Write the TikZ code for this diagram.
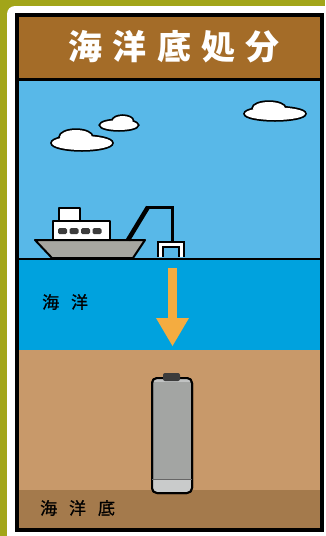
\documentclass[tikz,border=0pt]{standalone}
\usepackage{fontspec}
\newfontfamily\cjk{Noto Sans CJK JP}
\usetikzlibrary{arrows.meta,positioning}
\definecolor{frameolive}{HTML}{A2A519}
\definecolor{titlebrown}{HTML}{A46C28}
\definecolor{skyblue}{HTML}{58B8E8}
\definecolor{seablue}{HTML}{00A2DE}
\definecolor{sand}{HTML}{C8996A}
\definecolor{seabed}{HTML}{A47A4C}
\definecolor{droporange}{HTML}{F4AC40}
\definecolor{hullgray}{HTML}{A6A6A0}
\definecolor{cangray}{HTML}{A3A5A3}
\definecolor{canlight}{HTML}{C9CBCB}
\definecolor{windowgray}{HTML}{3C3C3C}
\tikzset{
    %Define standard outline
    outline/.style={draw=black, line width=2pt, line join=round},
    % Define text styles
    titletext/.style={text=white, font=\cjk\bfseries\fontsize{34}{34}\selectfont\addfontfeatures{LetterSpace=30}},
    layertext/.style={text=black, anchor=west, inner sep=0pt, font=\cjk\fontsize{17}{17}\selectfont\addfontfeatures{LetterSpace=70,FakeBold=1}},
    % Define cloud
    pics/cloud/.style={code={
        \draw[line width=3.5pt, fill=white] (0,3) ellipse [x radius=30, y radius=7]
              (-6,-3) ellipse [x radius=16, y radius=7];
        \fill[white] (0,3) ellipse [x radius=30, y radius=7]
              (-6,-3) ellipse [x radius=16, y radius=7];
    }},
}

\begin{document}
\begin{tikzpicture}[
x=1pt, y=-1pt,
droparrow/.style={draw=droporange, line width=9pt, -{Triangle[width=33pt, length=28pt, line width=0pt]}},
]
\useasboundingbox (0,0) rectangle (325,536);
%Background
\fill[frameolive] (0,0) rectangle (325,536);
\fill[white, rounded corners=8pt] (7,6) rectangle (345,560);

%Layers
\fill[titlebrown] (17,15) rectangle (321.5,79.5);
\fill[skyblue] (17,79.5) rectangle (321.5,259);
\fill[seablue] (17,259) rectangle (321.5,350);
\fill[sand] (17,350) rectangle (321.5,490);
\fill[seabed] (17,490) rectangle (321.5,530);
\draw[line width=3pt] (17,79.5) -- (321.5,79.5);
\draw[line width=2pt] (17,259) -- (321.5,259);
\draw[line width=4pt] (17,15) rectangle (321.5,530);

%Clouds
\pic at (82,140) {cloud};
\pic[xscale=-0.62, yscale=0.7] at (119,123) {cloud};
\pic[yscale=0.9] at (275,111) {cloud};

%Ship
\draw[outline, fill=hullgray] (35,240) -- (145,240) -- (133,258) -- (52,258) -- cycle;
\draw[outline, fill=white] (53,221) rectangle (110,240);
\draw[outline, fill=white] (59,208) rectangle (80,221);
\foreach \wx in {62.5,74,85.5,97}
    \fill[windowgray, rounded corners=1.5pt] (\wx-4.5,228) rectangle (\wx+4.5,234);

%Crane
\draw[line width=4.5pt] (128,240) -- (148,207);
\draw[line width=3pt, line join=miter] (147,207) -- (172,207) -- (172,243);
\draw[line width=2pt, double=white, double distance=3pt, line join=miter]
      (160,257) -- (160,244) -- (181,244) -- (181,257);

%Canister
\draw[outline, fill=cangray, rounded corners=5pt] (152,378) rectangle (192,493);
\begin{scope}
    \clip[rounded corners=5pt] (152,378) rectangle (192,493);
    \fill[canlight] (152,479) rectangle (192,493);
    \fill[canlight!80!cangray] (152,378) rectangle (192,382);
\end{scope}
\draw[outline, rounded corners=5pt] (152,378) rectangle (192,493);
\draw[line width=0.8pt, black!60] (152,479) -- (192,479);
\fill[windowgray, rounded corners=2pt] (163,373) rectangle (180,381);

%Drop
\coordinate (release) at (172.5,268);
\coordinate (floor) at (172.5,346);
\draw[droparrow] (release) -- (floor);

%Nodes
\node[titletext] (title) at (174,47) {海洋底処分};
\node[layertext] (sealabel) at (42,302) {海洋};
\node[layertext] (floorlabel) at (40,508) {海洋底};

\end{tikzpicture}
\end{document}
